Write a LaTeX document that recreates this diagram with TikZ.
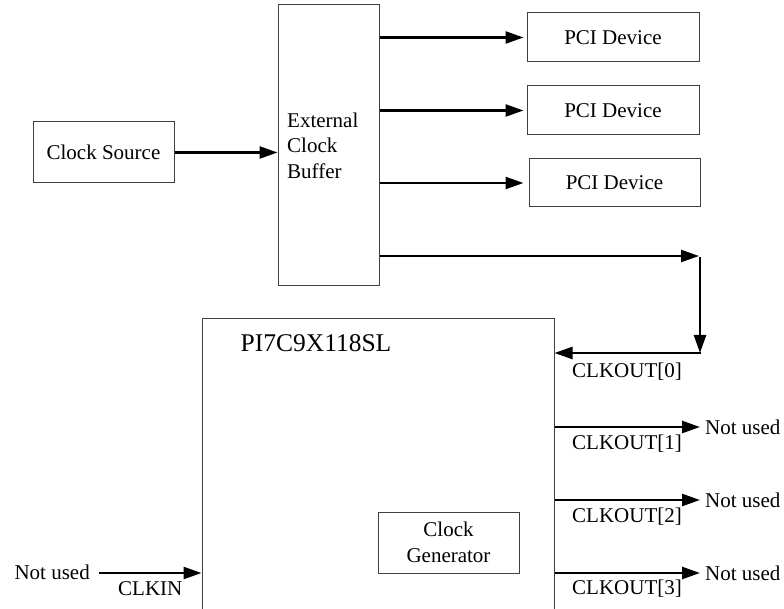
\documentclass[tikz,border=0pt]{standalone}
\usepackage{fontspec}
\setmainfont{Liberation Serif}
\usetikzlibrary{arrows.meta}
\begin{document}
\begin{tikzpicture}[x=1pt,y=-1pt,
  box/.style={draw=black!75,line width=1pt,inner sep=0pt,anchor=center},
  txt/.style={inner sep=0pt,font=\fontsize{21}{25.5}\selectfont},
  arr/.style={line width=2.5pt,-{Triangle[length=18pt,width=12pt]}}]
\path[use as bounding box,clip] (0,0) rectangle (784,609);
% boxes
\node[box,minimum width=141pt,minimum height=61pt,txt] (src) at (103.5,152.5) {Clock Source};
\node[box,minimum width=101pt,minimum height=281pt] (buf) at (328.5,145.5) {};
\node[txt,anchor=west,align=left] (buftxt) at (287,145.5) {External\\Clock\\Buffer};
\node[box,minimum width=172pt,minimum height=49pt,txt] (pci1) at (613,37.5) {PCI Device};
\node[box,minimum width=172pt,minimum height=49pt,txt] (pci2) at (613,110.5) {PCI Device};
\node[box,minimum width=171pt,minimum height=48pt,txt] (pci3) at (614.5,183) {PCI Device};
\node[box,minimum width=352pt,minimum height=340pt] (chip) at (378,489) {};
\node[inner sep=0pt,font=\fontsize{25.5}{30}\selectfont] (chiptxt) at (316,343) {PI7C9X118SL};
\node[box,minimum width=141pt,minimum height=61pt,txt,align=center] (gen) at (448.5,542.5) {Clock\\Generator};
% connectors
\draw[arr] (src.east) -- (buf.west |- src.east);
\draw[arr,shorten >=3pt] (buf.east |- pci1.west) -- (pci1.west);
\draw[arr,shorten >=3pt] (buf.east |- pci2.west) -- (pci2.west);
\draw[arr,shorten >=5pt] (buf.east |- pci3.west) -- (pci3.west);
\coordinate (c1) at (700,256);
\coordinate (c2) at (700,353);
\draw[arr,shorten >=1pt] (buf.east |- c1) -- (c1);
\draw[arr] ([yshift=-1.25pt]c1) -- (c2);
\draw[arr] ([xshift=1.25pt]c2) -- (chip.east |- c2);
\node[txt,anchor=west] (co0) at (572,372) {CLKOUT[0]};
\node[txt,anchor=west] (nu1) at (705,427) {Not used};
\node[txt,anchor=west] (nu2) at (705,500) {Not used};
\node[txt,anchor=west] (nu3) at (705,573) {Not used};
\draw[arr,shorten >=5pt] (chip.east |- nu1.west) -- (nu1.west);
\draw[arr,shorten >=5pt] (chip.east |- nu2.west) -- (nu2.west);
\draw[arr,shorten >=5pt] (chip.east |- nu3.west) -- (nu3.west);
\node[txt,anchor=west] (co1) at (572,444) {CLKOUT[1]};
\node[txt,anchor=west] (co2) at (572,517) {CLKOUT[2]};
\node[txt,anchor=west] (co3) at (572,589) {CLKOUT[3]};
\node[txt,anchor=east] (nu0) at (90,572) {Not used};
\node[txt,anchor=west] (clkin) at (118,589) {CLKIN};
\coordinate (cin) at (99,573);
\draw[arr] (cin) -- (chip.west |- cin);
\end{tikzpicture}
\end{document}
